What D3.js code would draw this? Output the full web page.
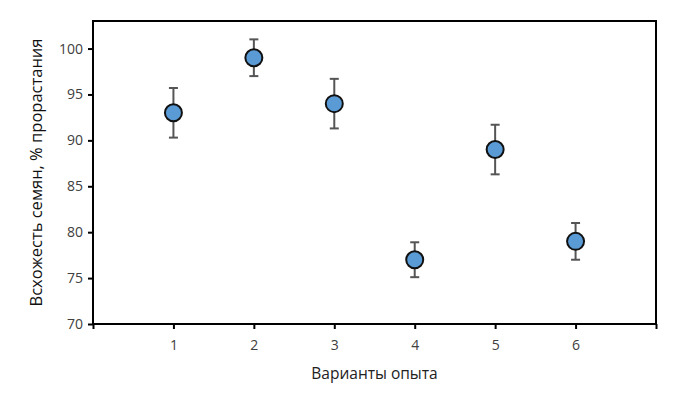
<!DOCTYPE html>
<html>
<head>
<meta charset="utf-8">
<script src="https://cdn.jsdelivr.net/npm/d3@7"></script>
<style>
  body { margin: 0; background: #fff; }
  svg text { font-family: 'Open Sans', sans-serif; }
</style>
</head>
<body>
<div id="chart"></div>
<script>
// данные
const variants = [1, 2, 3, 4, 5, 6]
const germination = [93, 99, 94, 77, 89, 79]
const errors = [2.7, 2.0, 2.7, 1.9, 2.7, 2.0]
const yTicks = [70, 75, 80, 85, 90, 95, 100]
const xTicks = [0, 1, 2, 3, 4, 5, 6, 7]

const width = 678
const height = 409
const margin = { top: 21, right: 22, bottom: 85, left: 93 }

const svg = d3.select('#chart').append('svg')
  .attr('width', width)
  .attr('height', height)

const x = d3.scaleLinear().domain([0, 7]).range([margin.left, width - margin.right])
const y = d3.scaleLinear().domain([70, 103]).range([height - margin.bottom, margin.top])

// рамка
svg.append('rect')
  .attr('x', x(0))
  .attr('y', y(103))
  .attr('width', x(7) - x(0))
  .attr('height', y(70) - y(103))
  .attr('fill', 'none')
  .attr('stroke', '#000')
  .attr('stroke-width', 2)

// ось Y
const yAxis = svg.append('g')
  .attr('transform', `translate(${x(0)},0)`)
  .call(d3.axisLeft(y).tickValues(yTicks).tickSize(5).tickPadding(5))
yAxis.select('.domain').remove()
yAxis.selectAll('line').attr('stroke', '#000').attr('stroke-width', 2)
yAxis.selectAll('text').attr('font-size', 14).attr('fill', '#404040')

// ось X
const xAxis = svg.append('g')
  .attr('transform', `translate(0,${y(70)})`)
  .call(d3.axisBottom(x).tickValues(xTicks).tickSize(5).tickPadding(11)
    .tickFormat(d => (d >= 1 && d <= 6) ? d : ''))
xAxis.select('.domain').remove()
xAxis.selectAll('line').attr('stroke', '#000').attr('stroke-width', 2)
xAxis.selectAll('text').attr('font-size', 14).attr('fill', '#404040')

// подписи осей
svg.append('text')
  .attr('x', (x(0) + x(7)) / 2)
  .attr('y', 379)
  .attr('text-anchor', 'middle')
  .attr('font-size', 15.5)
  .attr('fill', '#222')
  .text('Варианты опыта')

svg.append('text')
  .attr('transform', `translate(42,${(y(70) + y(103)) / 2}) rotate(-90)`)
  .attr('text-anchor', 'middle')
  .attr('font-size', 16.5)
  .attr('fill', '#111')
  .text('Всхожесть семян, % прорастания')

const data = variants.map((v, i) => ({ v, val: germination[i], err: errors[i] }))

// планки погрешностей
const eb = svg.append('g').attr('stroke', '#555').attr('stroke-width', 2)
eb.selectAll('line.bar').data(data).enter().append('line')
  .attr('x1', d => x(d.v)).attr('x2', d => x(d.v))
  .attr('y1', d => y(d.val - d.err)).attr('y2', d => y(d.val + d.err))
eb.selectAll('line.top').data(data).enter().append('line')
  .attr('x1', d => x(d.v) - 4.5).attr('x2', d => x(d.v) + 4.5)
  .attr('y1', d => y(d.val + d.err)).attr('y2', d => y(d.val + d.err))
eb.selectAll('line.bot').data(data).enter().append('line')
  .attr('x1', d => x(d.v) - 4.5).attr('x2', d => x(d.v) + 4.5)
  .attr('y1', d => y(d.val - d.err)).attr('y2', d => y(d.val - d.err))

// точки
svg.append('g').selectAll('circle').data(data).enter().append('circle')
  .attr('cx', d => x(d.v))
  .attr('cy', d => y(d.val))
  .attr('r', 8.5)
  .attr('fill', '#5b9bd5')
  .attr('stroke', '#111')
  .attr('stroke-width', 2)
</script>
</body>
</html>
